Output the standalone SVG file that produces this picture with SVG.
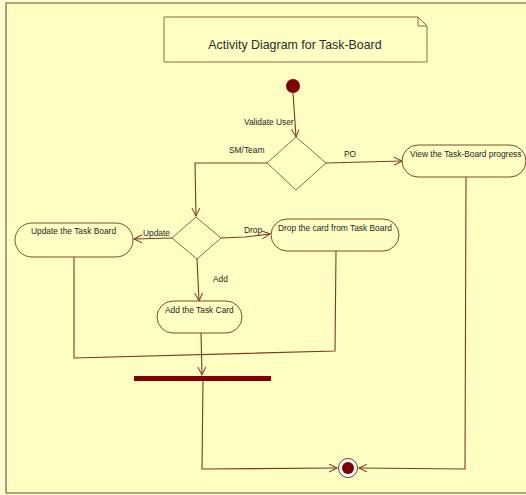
<svg xmlns="http://www.w3.org/2000/svg" width="526" height="495" viewBox="0 0 526 495">
  <style>
    .txt { font-family: "Liberation Sans", Arial, sans-serif; font-size: 8.4px; fill: #1e1e1e; }
    .title { font-family: "Liberation Sans", Arial, sans-serif; font-size: 12.4px; fill: #2a2a2a; }
    .act { fill: #ffffc4; stroke: #7a4a2a; stroke-width: 1; }
    .dec { fill: #ffffc4; stroke: #8a6a40; stroke-width: 1; }
    .flow { fill: none; stroke: #7a3a22; stroke-width: 1.1; }
    .arr { marker-end: url(#open); }
  </style>
  <defs>
    <marker id="open" markerWidth="10" markerHeight="10" refX="8" refY="4" orient="auto" markerUnits="userSpaceOnUse">
      <path d="M0,0 L8,4 L0,8" fill="none" stroke="#7a3a22" stroke-width="1"/>
    </marker>
  </defs>

  <!-- canvas -->
  <rect x="0" y="0" width="526" height="495" fill="#ffffd2"/>
  <rect x="6" y="3" width="530" height="490" fill="#ffffc4" stroke="#9c8060" stroke-width="1.5"/>

  <!-- title note -->
  <g id="note">
    <path d="M164,17 L418,17 L427,26 L427,62 L164,62 Z" fill="#ffffc4" stroke="#8b6a44" stroke-width="1"/>
    <path d="M418,17 L418,26 L427,26" fill="none" stroke="#8b6a44" stroke-width="1"/>
    <text class="title" x="295" y="49" text-anchor="middle">Activity Diagram for Task-Board</text>
  </g>

  <!-- connectors -->
  <g id="connectors">
    <path class="flow arr" d="M293,93 L296,137"/>
    <path class="flow arr" d="M326,163 L402,161"/>
    <path class="flow arr" d="M267,163 L195,163 L196,216"/>
    <path class="flow arr" d="M172,238 L134,239"/>
    <path class="flow arr" d="M221,238 L245,237 L270,234"/>
    <path class="flow arr" d="M197,259 L199,301"/>
    <path class="flow" d="M74,257 L74,358 L335,351 L336,251"/>
    <path class="flow arr" d="M201,333 L202,375"/>
    <path class="flow arr" d="M203,381 L202,469 L337,468"/>
    <path class="flow arr" d="M466,177 L465,469 L359,468"/>
    <text class="txt" x="244" y="125">Validate User</text>
    <text class="txt" x="229" y="153">SM/Team</text>
    <text class="txt" x="344" y="157">PO</text>
    <text class="txt" x="143" y="236">Update</text>
    <text class="txt" x="244" y="233">Drop</text>
    <text class="txt" x="213" y="282">Add</text>
  </g>

  <g id="start">
    <circle cx="293" cy="86" r="7" fill="#800000"/>
  </g>

  <g id="decision-role">
    <path class="dec" d="M296,137 L326,163 L296,190 L267,163 Z"/>
  </g>

  <g id="decision-action">
    <path class="dec" d="M196,217 L221,238 L197,259 L172,238 Z"/>
  </g>

  <g id="view-progress">
    <rect class="act" x="402" y="145" width="124" height="32" rx="16"/>
    <text class="txt" x="410" y="157">View the Task-Board progress</text>
  </g>

  <g id="update-board">
    <rect class="act" x="15" y="223" width="118" height="34" rx="17"/>
    <text class="txt" x="31" y="234">Update the Task Board</text>
  </g>

  <g id="drop-card">
    <rect class="act" x="271" y="219" width="128" height="32" rx="16"/>
    <text class="txt" x="278" y="231">Drop the card from Task Board</text>
  </g>

  <g id="add-card">
    <rect class="act" x="157" y="301" width="85" height="32" rx="16"/>
    <text class="txt" x="165" y="313">Add the Task Card</text>
  </g>

  <g id="join">
    <rect x="134" y="376" width="137" height="5" fill="#800000"/>
  </g>

  <g id="final">
    <circle cx="348" cy="468" r="9.5" fill="#ffffff" stroke="#7a3a22" stroke-width="1"/>
    <circle cx="348" cy="468" r="6" fill="#800000"/>
  </g>
</svg>
